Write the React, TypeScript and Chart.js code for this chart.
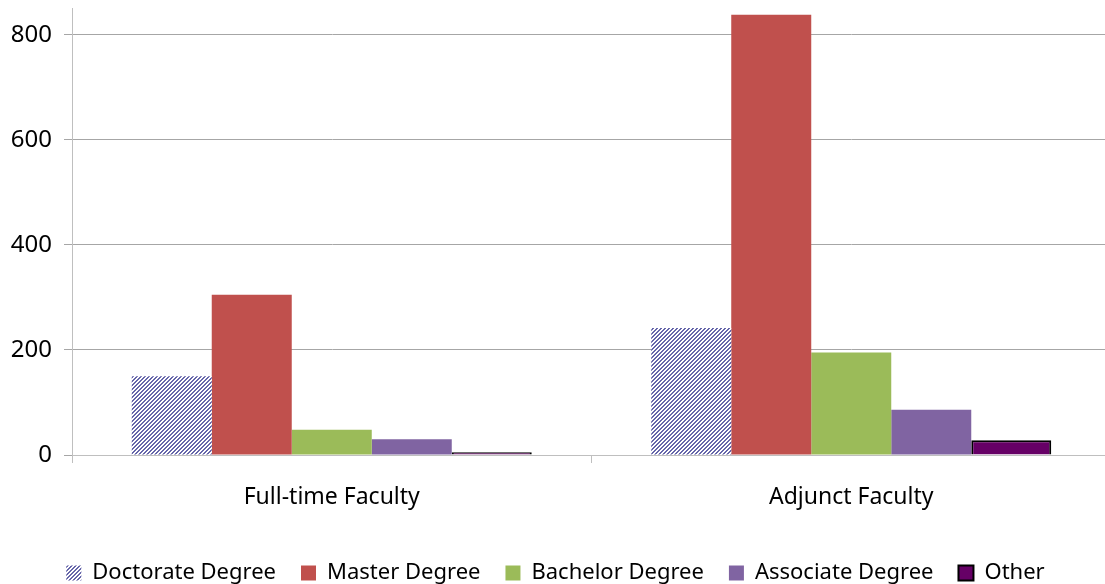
import React, { useEffect, useRef } from "react";
import { Chart, registerables } from "chart.js";

Chart.register(...registerables);

const categories = ["Full-time Faculty", "Adjunct Faculty"];
const seriesNames = ["Doctorate Degree", "Master Degree", "Bachelor Degree", "Associate Degree", "Other"];
const doctorate = [150, 242];
const master = [305, 838];
const bachelor = [48, 195];
const associate = [30, 86];
const other = [5, 28];
const yTicks = [0, 200, 400, 600, 800];
const yMax = 851;

const FONT = "'Noto Sans'";

export default function App() {
  const ref = useRef<HTMLCanvasElement>(null);

  useEffect(() => {
    const canvas = ref.current!;
    const tile = document.createElement("canvas");
    tile.width = 4;
    tile.height = 4;
    const tctx = tile.getContext("2d")!;
    const img = tctx.createImageData(4, 4);
    for (let y = 0; y < 4; y++) {
      for (let x = 0; x < 4; x++) {
        const i = (y * 4 + x) * 4;
        const stripe = (x + y) % 4 < 2;
        img.data[i] = stripe ? 0x66 : 255;
        img.data[i + 1] = stripe ? 0x66 : 255;
        img.data[i + 2] = stripe ? 0xaa : 255;
        img.data[i + 3] = 255;
      }
    }
    tctx.putImageData(img, 0, 0);
    const pattern = canvas.getContext("2d")!.createPattern(tile, "repeat")!;

    const chart = new Chart(canvas, {
      type: "bar",
      data: {
        labels: categories,
        datasets: [
          { label: seriesNames[0], data: doctorate, backgroundColor: pattern as any, borderWidth: 0 },
          { label: seriesNames[1], data: master, backgroundColor: "#c0504d", borderWidth: 0 },
          { label: seriesNames[2], data: bachelor, backgroundColor: "#9bbb59", borderWidth: 0 },
          { label: seriesNames[3], data: associate, backgroundColor: "#8064a2", borderWidth: 0 },
          { label: seriesNames[4], data: other, backgroundColor: "#660066", borderColor: "#000000", borderWidth: 2 },
        ],
      },
      options: {
        responsive: false,
        animation: false,
        datasets: { bar: { barPercentage: 1, categoryPercentage: 0.77 } },
        layout: { padding: { top: 8, left: 0, right: 0, bottom: 0 } },
        plugins: {
          legend: {
            position: "bottom",
            labels: {
              font: { family: FONT, size: 22 },
              color: "#000",
              boxWidth: 15,
              boxHeight: 15,
              padding: 25,
            },
          },
          tooltip: { enabled: false },
        },
        scales: {
          x: {
            grid: { display: true, drawOnChartArea: false, drawTicks: true, tickLength: 8, color: "#bfbfbf", offset: true },
            border: { color: "#bfbfbf" },
            ticks: { font: { family: FONT, size: 23 }, color: "#000", padding: 21, maxRotation: 0 },
            afterFit: (s: any) => {
              s.height = 82;
              s.paddingLeft = 0;
              s.paddingRight = 0;
            },
          },
          y: {
            min: 0,
            max: yMax,
            grid: { color: "#a6a6a6", tickLength: 8 },
            border: { color: "#bfbfbf" },
            ticks: { stepSize: 200, padding: 12, font: { family: FONT, size: 24 }, color: "#000" },
            afterBuildTicks: (s: any) => {
              s.ticks = yTicks.map((v) => ({ value: v }));
            },
            afterFit: (s: any) => {
              s.width = 72;
              s.paddingTop = 0;
              s.paddingBottom = 0;
            },
          },
        },
      },
    });
    return () => chart.destroy();
  }, []);

  return (
    <div style={{ position: "fixed", left: 0, top: 0, width: 1105, height: 584, overflow: "hidden", background: "#fff" }}>
      <canvas ref={ref} width={1111} height={594} style={{ display: "block", width: 1111, height: 594 }} />
    </div>
  );
}
